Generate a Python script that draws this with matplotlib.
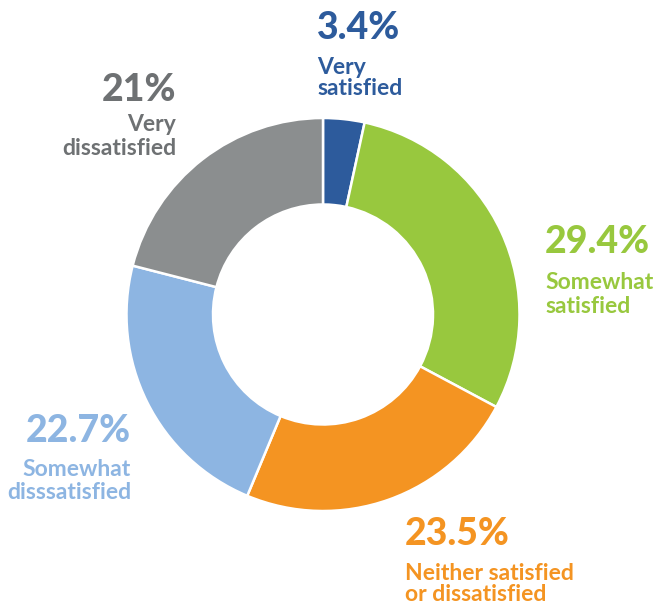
import matplotlib
matplotlib.use("Agg")
import matplotlib.pyplot as plt

categories = ["Very\nsatisfied", "Somewhat\nsatisfied", "Neither satisfied\nor dissatisfied",
              "Somewhat\ndisssatisfied", "Very\ndissatisfied"]
values = [3.4, 29.4, 23.5, 22.7, 21]
pct_labels = ["3.4%", "29.4%", "23.5%", "22.7%", "21%"]
colors = ["#2D5B9C", "#98C83E", "#F49422", "#8DB5E2", "#8B8E8F"]
text_colors = ["#2D5B9C", "#98C83E", "#F49422", "#8DB5E2", "#6E7173"]

W, H = 659, 605
fig = plt.figure(figsize=(W / 100, H / 100), dpi=100)
ax = fig.add_axes([0, 0, 1, 1])

cx, cy = 323, H - 314.5
R = 196.5
ax.pie(values, colors=colors, startangle=90, counterclock=False,
       center=(cx, cy), radius=R, frame=True,
       wedgeprops=dict(width=R - 110, edgecolor="white", linewidth=1.8))
ax.set_xlim(0, W)
ax.set_ylim(0, H)
ax.set_aspect("equal")
ax.axis("off")

font = "Lato"
# (x, pct baseline, last-line label baseline, ha, linespacing) in pixels from top-left
placements = [
    (317, 39, 95, "left", 0.98),
    (545, 253, 313, "left", 1.15),
    (405, 545, 601, "left", 1.0),
    (131, 442, 499, "right", 1.1),
    (176, 101, 155, "right", 1.15),
]
for (x, yb, lb, ha, ls), pct, lab, tc in zip(placements, pct_labels, categories, text_colors):
    ax.text(x, H - yb, pct, ha=ha, va="baseline", color=tc,
            fontsize=27, fontweight="black", family=font)
    ax.text(x, H - lb, lab, ha=ha, va="baseline", color=tc, multialignment=ha,
            fontsize=16.5, fontweight="bold", family=font, linespacing=ls)

fig.savefig("out.png", dpi=100)
